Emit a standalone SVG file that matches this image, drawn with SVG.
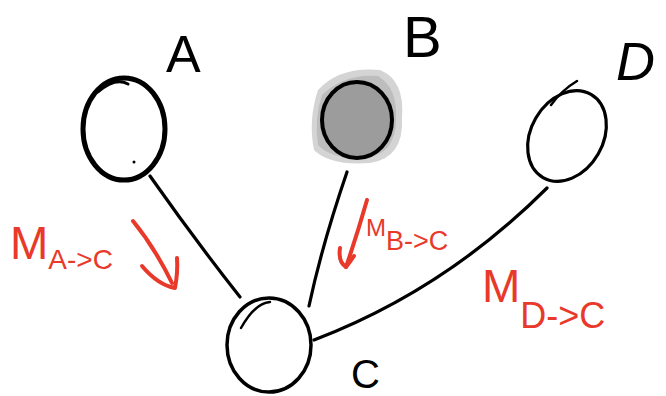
<svg xmlns="http://www.w3.org/2000/svg" width="666" height="396" viewBox="0 0 666 396">
<style>
.node{fill:none;stroke:#000;stroke-linecap:round;stroke-linejoin:round}
.edge{fill:none;stroke:#000;stroke-width:3.2;stroke-linecap:round}
.lbl{font-family:"Liberation Sans",Arial,sans-serif;fill:#000}
.red{font-family:"Liberation Sans",Arial,sans-serif;fill:#e8392a}
.rarr{fill:none;stroke:#e8392a;stroke-width:4;stroke-linecap:round;stroke-linejoin:round}
</style>
<rect width="666" height="396" fill="#fff"/>
<g id="connectors">
<path class="edge" d="M150,176 Q195,240 240,297"/>
<path class="edge" d="M347,172 Q322,245 309,306"/>
<path class="edge" d="M547,188 Q445,290 314,340"/>
</g>
<g id="node-A">
<ellipse class="node" cx="124" cy="129" rx="41" ry="51" stroke-width="5"/>
<path class="node" d="M98,92 Q115,77 128,84" stroke-width="3"/>
<circle cx="134" cy="162" r="1.5" fill="#000"/>
<text class="lbl" x="166" y="72" font-size="52">A</text>
</g>
<g id="node-B">
<path d="M318,90 Q340,66 380,70 Q405,80 402,118 Q404,158 370,163 Q330,166 314,150 Q308,120 318,90 Z" fill="#d4d4d4"/>
<path d="M322,95 Q345,73 378,76 Q398,88 396,120 Q396,152 368,158 Q332,160 318,145 Q314,118 322,95 Z" fill="#bdbdbd"/>
<ellipse cx="357" cy="120" rx="35" ry="38" fill="#9c9c9c" stroke="#000" stroke-width="4"/>
<text class="lbl" x="403" y="57" font-size="58">B</text>
</g>
<g id="node-D">
<ellipse class="node" cx="567" cy="136" rx="36" ry="48" transform="rotate(30 567 136)" stroke-width="3.2"/>
<path class="node" d="M551,105 Q562,90 577,81" stroke-width="2.5"/>
<text class="lbl" x="616" y="80" font-size="54" font-style="italic">D</text>
</g>
<g id="node-C">
<ellipse class="node" cx="269" cy="345" rx="42" ry="47" stroke-width="3.5"/>
<path class="node" d="M241,328 Q255,303 270,302" stroke-width="2.5"/>
<text class="lbl" x="351" y="388" font-size="40">C</text>
</g>
<g id="annotations">
<text class="red" x="10" y="259" font-size="46">M<tspan font-size="28" dy="10">A-&gt;C</tspan></text>
<path class="rarr" d="M133,221 Q155,248 172,283"/>
<path class="rarr" d="M142,266 Q158,285 175,288 Q178,272 177,258"/>
<text class="red" x="366" y="236" font-size="24">M<tspan font-size="27" dy="14">B-&gt;C</tspan></text>
<path class="rarr" d="M367,200 Q357,235 346,267"/>
<path class="rarr" d="M340,248 Q338,262 346,267 Q350,262 354,256"/>
<text class="red" x="482" y="302" font-size="46">M<tspan font-size="36" dy="26">D-&gt;C</tspan></text>
</g>
</svg>
